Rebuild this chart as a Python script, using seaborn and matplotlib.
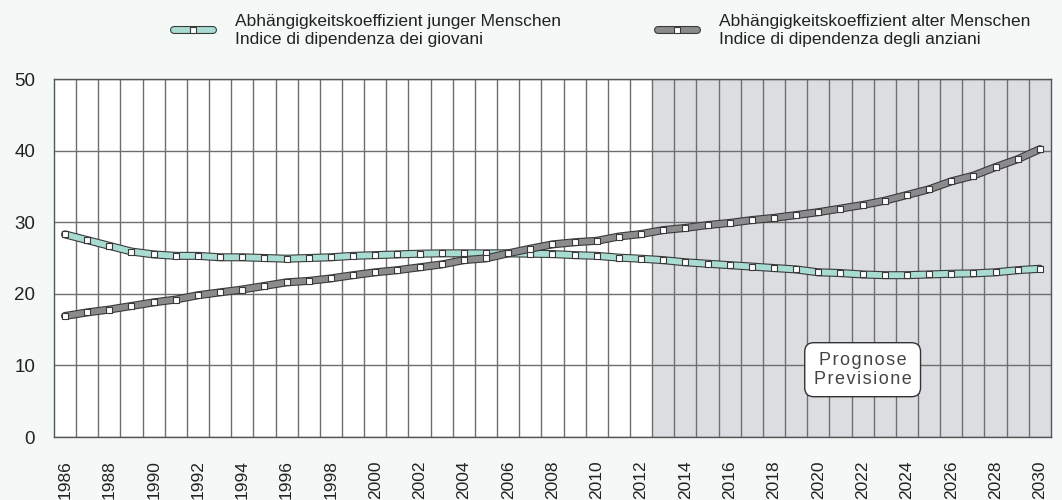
import matplotlib
matplotlib.use('Agg')
import matplotlib.pyplot as plt
import matplotlib.patheffects as pe
from matplotlib.lines import Line2D
import numpy as np
import pandas as pd
import seaborn as sns

# ===== Data =====
years = list(range(1986, 2031))
young = [28.3, 27.5, 26.7, 25.9, 25.5, 25.3, 25.3, 25.1, 25.1, 25.0,
         24.9, 25.0, 25.1, 25.3, 25.4, 25.5, 25.6, 25.65, 25.65, 25.65,
         25.65, 25.6, 25.55, 25.4, 25.3, 25.05, 24.9, 24.7, 24.4, 24.2,
         24.0, 23.8, 23.6, 23.4, 23.0, 22.9, 22.7, 22.6, 22.6, 22.7,
         22.8, 22.85, 23.0, 23.3, 23.5]
old = [16.9, 17.4, 17.8, 18.3, 18.8, 19.2, 19.8, 20.2, 20.6, 21.1,
       21.6, 21.8, 22.15, 22.6, 23.0, 23.3, 23.7, 24.1, 24.7, 24.95,
       25.65, 26.3, 26.9, 27.2, 27.4, 28.0, 28.35, 28.9, 29.2, 29.6,
       29.9, 30.3, 30.6, 31.0, 31.4, 31.9, 32.4, 33.0, 33.8, 34.6,
       35.7, 36.5, 37.7, 38.8, 40.2]
label_young = "Abhängigkeitskoeffizient junger Menschen\nIndice di dipendenza dei giovani"
label_old = "Abhängigkeitskoeffizient alter Menschen\nIndice di dipendenza degli anziani"
forecast_start = 2013
box_lines = ["Prognose", "Previsione"]

df = pd.DataFrame({
    'Jahr': years * 2,
    'Wert': young + old,
    'Serie': [label_young] * len(years) + [label_old] * len(years),
})

col_young = '#a8dbd1'
col_old = '#8b8b8e'
edge = '#3a3a3a'
pal = {label_young: col_young, label_old: col_old}

# ===== Plot =====
sns.set_theme(style='white')
plt.rcParams['font.family'] = ['Liberation Sans', 'DejaVu Sans']

fig = plt.figure(figsize=(10.62, 5.0), dpi=100, facecolor='#f4f8f7')
ax = fig.add_axes([0.0508, 0.126, 0.9388, 0.716])
ax.set_facecolor('white')

ax.axvspan(forecast_start - 0.5, years[-1] + 0.5, color='#dcdde1', zorder=0, lw=0)

# band lines with dark outline
sns.lineplot(data=df, x='Jahr', y='Wert', hue='Serie', palette=pal,
             linewidth=4.2, legend=False, ax=ax, zorder=3)
for ln in ax.lines:
    ln.set_path_effects([pe.Stroke(linewidth=5.8, foreground=edge), pe.Normal()])

# small white square markers
sns.scatterplot(data=df, x='Jahr', y='Wert', marker='s', s=20, color='white',
                edgecolor=edge, linewidth=0.8, legend=False, ax=ax, zorder=4)

ax.set_xlim(years[0] - 0.5, years[-1] + 0.5)
ax.set_ylim(0, 50)
ax.set_xticks(years[::2])
ax.set_xticks([y + 0.5 for y in years[:-1]], minor=True)
ax.set_yticks([0, 10, 20, 30, 40, 50])
ax.grid(False)
ax.grid(True, which='minor', axis='x', color='#6e6e6e', lw=1.0)
ax.grid(True, which='major', axis='y', color='#6e6e6e', lw=1.0)
ax.set_axisbelow(True)
ax.tick_params(axis='both', which='both', length=0, colors='#222222')
ax.tick_params(axis='y', pad=13.5, labelsize=13.5)
ax.tick_params(axis='x', pad=17, rotation=90, labelsize=12.5)
ax.set_xlabel('')
ax.set_ylabel('')
for s in ax.spines.values():
    s.set_color('#555555')
    s.set_linewidth(1.0)

box_text = "\n".join("\u200a".join(w) for w in box_lines)
ax.text(2022, 9.4, box_text, ha='center', va='center', fontsize=13,
        color='#444444', linespacing=1.15, zorder=5,
        bbox=dict(boxstyle='round,pad=0.5,rounding_size=0.5', fc='white', ec='#333333', lw=1))

handles = []
for c in (col_young, col_old):
    band = Line2D([0, 1], [0, 0], color=c, lw=4.2,
                  path_effects=[pe.Stroke(linewidth=5.8, foreground=edge), pe.Normal()])
    mark = Line2D([0.5], [0], ls='none', marker='s', markersize=4.5,
                  markerfacecolor='white', markeredgecolor=edge, markeredgewidth=0.8)
    handles.append((band, mark))
fig.legend(handles, [label_young, label_old], loc='upper left', ncol=2,
           bbox_to_anchor=(0.149, 1.003), frameon=False, fontsize=12.5,
           handlelength=2.25, handletextpad=1.25, columnspacing=5.6,
           labelcolor='#222222')

plt.savefig('out.png', dpi=100, facecolor=fig.get_facecolor())
